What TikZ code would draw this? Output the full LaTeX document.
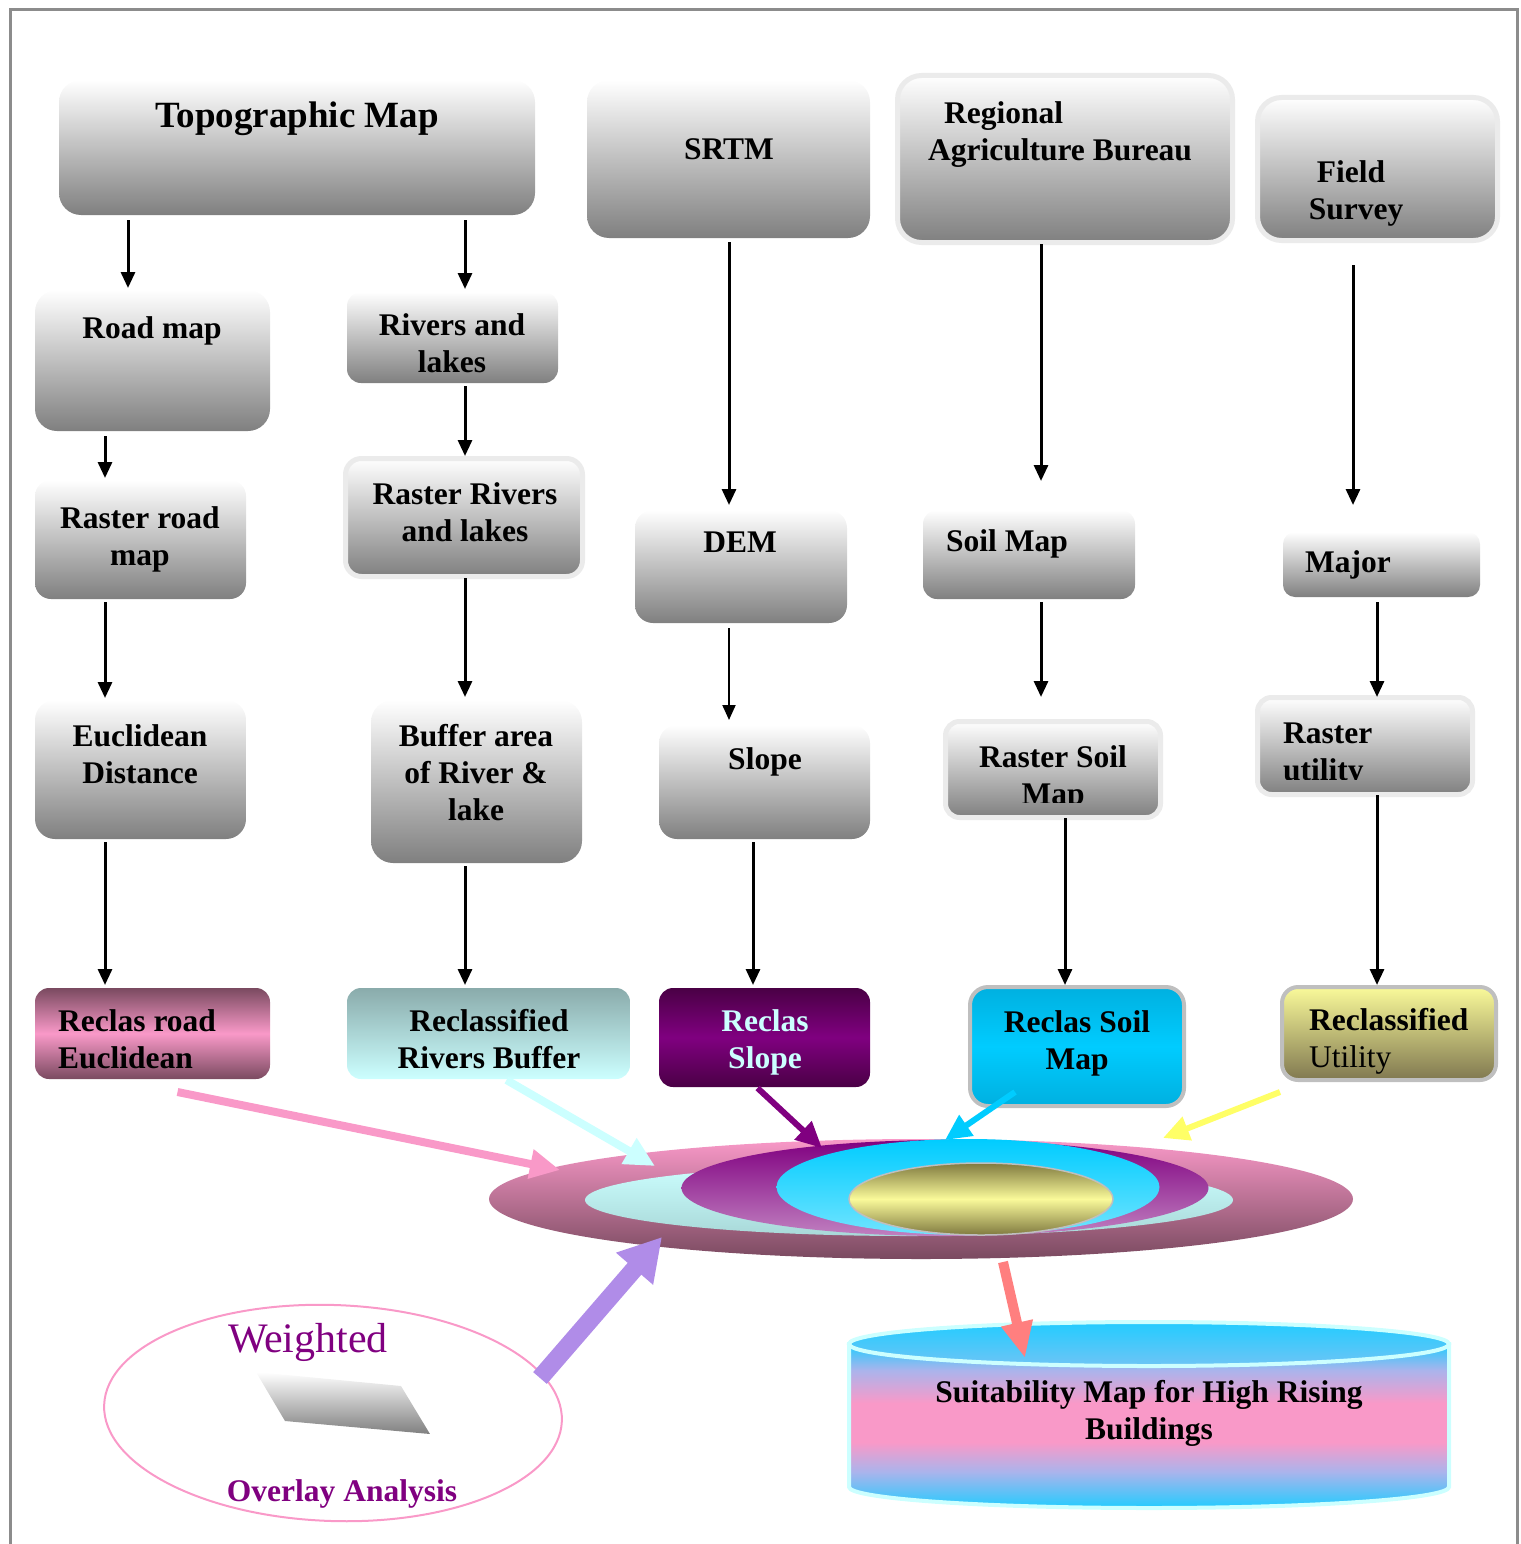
\documentclass[tikz,border=0pt]{standalone}
\usepackage{fontspec}
\setmainfont{Liberation Serif}
\usetikzlibrary{shapes.geometric,arrows.meta}

\definecolor{pinkA}{RGB}{249,153,200}
\definecolor{mauve}{RGB}{122,74,96}
\definecolor{tealgray}{RGB}{138,171,171}
\definecolor{lcyan}{RGB}{204,255,255}
\definecolor{lcyanB}{RGB}{168,216,216}
\definecolor{dpurple}{RGB}{74,0,69}
\definecolor{plum}{RGB}{128,0,128}
\definecolor{orchidA}{RGB}{192,128,192}
\definecolor{cyanA}{RGB}{0,204,255}
\definecolor{cyanB}{RGB}{0,176,224}
\definecolor{cyanC}{RGB}{112,228,255}
\definecolor{cylA}{RGB}{34,204,255}
\definecolor{cylC}{RGB}{110,196,245}
\definecolor{lavA}{RGB}{170,180,236}
\definecolor{yelA}{RGB}{250,250,154}
\definecolor{oliveA}{RGB}{128,120,80}
\definecolor{oliveB}{RGB}{128,122,64}
\definecolor{yelArrow}{RGB}{255,255,102}
\definecolor{salmon}{RGB}{255,127,127}
\definecolor{violetA}{RGB}{176,140,232}

\pgfdeclareverticalshading{cylbody}{100bp}{color(0bp)=(cylA); color(25bp)=(cylA);
  color(36bp)=(lavA); color(45bp)=(pinkA); color(57bp)=(pinkA); color(67bp)=(lavA);
  color(75bp)=(cylA); color(100bp)=(cylA)}

\newcommand{\bx}{\fontsize{31.5}{37}\selectfont\bfseries}
\newcommand{\bigbx}{\fontsize{37}{44}\selectfont\bfseries}

\begin{document}
\begin{tikzpicture}[x=1pt,y=-1pt]
\tikzstyle{gbox}=[rectangle,rounded corners=16pt,inner sep=0,outer sep=0,top color=white,bottom color=black!50]
\tikzstyle{rbox}=[gbox,draw=black!8,line width=5pt]
\tikzstyle{txt}=[inner sep=0,align=center,font=\bx]
\tikzstyle{arr}=[line width=3pt,-{Triangle[length=16pt,width=14pt]}]
\tikzstyle{carr}=[line width=8pt,-{Triangle[length=30pt,width=28pt]}]
\tikzstyle{ell}=[ellipse,inner sep=0,outer sep=0]

\useasboundingbox (0,0) rectangle (1520,1544);
\draw[black!45,line width=3pt] (10,1544) -- (10,10) -- (1517,10) -- (1517,1544);

% data sources
\node[gbox,rounded corners=22pt,minimum width=476,minimum height=135] (topo) at (297,147.5) {};
\node[txt,font=\bigbx] (topo-t) at (297,119) {Topographic Map};
\node[gbox,rounded corners=22pt,minimum width=283,minimum height=158] (srtm) at (728.5,159) {};
\node[txt] (srtm-t) at (729,149) {SRTM};
\node[rbox,rounded corners=24pt,minimum width=335,minimum height=167] (rab) at (1065,159) {};
\node[txt,align=left] (rab-t) at (1060,135) {\hspace*{16pt}Regional\\Agriculture Bureau};
\node[rbox,rounded corners=24pt,minimum width=240,minimum height=143] (field) at (1377.5,169) {};
\node[txt,align=left] (field-t) at (1356,193) {\hspace*{8pt}Field\\Survey};

% intermediate layers
\node[gbox,rounded corners=22pt,minimum width=235,minimum height=141] (road) at (152.5,360.5) {};
\node[txt] (road-t) at (152,331) {Road map};
\node[gbox,rounded corners=14pt,minimum width=211,minimum height=91] (rivers) at (452.5,337.5) {};
\node[txt] (rivers-t) at (452,343) {Rivers and\\lakes};
\node[gbox,minimum width=211,minimum height=119] (rroad) at (140.5,539.5) {};
\node[txt] (rroad-t) at (140,539) {Raster road\\map};
\node[rbox,minimum width=237,minimum height=118] (rriv) at (464,517.5) {};
\node[txt] (rriv-t) at (465,512) {Raster Rivers\\and lakes};
\node[gbox,rounded corners=18pt,minimum width=212,minimum height=113] (dem) at (741,566.5) {};
\node[txt] (dem-t) at (740,542) {DEM};
\node[gbox,rounded corners=14pt,minimum width=212,minimum height=89] (soil) at (1029,554.5) {};
\node[txt,anchor=west] (soil-t) at (946,544) {Soil Map};
\node[gbox,rounded corners=12pt,minimum width=197,minimum height=65] (major) at (1381.5,564.5) {};
\node[txt,anchor=west] (major-t) at (1305,565) {Major};

\node[gbox,rounded corners=20pt,minimum width=211,minimum height=139] (eucl) at (140.5,769.5) {};
\node[txt] (eucl-t) at (140,754) {Euclidean\\Distance};
\node[gbox,rounded corners=22pt,minimum width=211,minimum height=163] (buff) at (476.5,781.5) {};
\node[txt] (buff-t) at (476,773) {Buffer area\\of River \&\\lake};
\node[gbox,rounded corners=18pt,minimum width=211,minimum height=114] (slope) at (764.5,782) {};
\node[txt] (slope-t) at (765,762) {Slope};
\node[rbox,rounded corners=14pt,minimum width=215,minimum height=96] (rsoil) at (1053,769.5) {};
\begin{scope}
  \clip (rsoil.north west) rectangle (1170,802);
  \node[txt] (rsoil-t) at (1053,778) {Raster Soil\\Map};
\end{scope}
\node[rbox,rounded corners=14pt,minimum width=215,minimum height=97] (rutil) at (1365,746) {};
\begin{scope}
  \clip (rutil.north west) rectangle (1480,779);
  \node[txt,align=left,anchor=west] (rutil-t) at (1283,755) {Raster\\utility};
\end{scope}

% reclassified layers
\node[gbox,rounded corners=14pt,minimum width=235,minimum height=91,top color=mauve,bottom color=mauve,middle color=pinkA] (crd) at (152.5,1033.5) {};
\node[txt,align=left,anchor=west] (crd-t) at (58,1039) {Reclas road\\Euclidean};
\node[gbox,rounded corners=14pt,minimum width=283,minimum height=91,top color=tealgray,bottom color=lcyan] (crv) at (488.5,1033.5) {};
\node[txt] (crv-t) at (489,1039) {Reclassified\\Rivers Buffer};
\node[gbox,rounded corners=14pt,minimum width=211,minimum height=99,top color=dpurple,bottom color=dpurple,middle color=plum] (csl) at (764.5,1037.5) {};
\node[txt,text=lcyan] (csl-t) at (765,1042) {Reclas\\Slope};
\node[gbox,rounded corners=18pt,minimum width=214,minimum height=119,draw=black!25,line width=4pt,top color=cyanB,bottom color=cyanB,middle color=cyanA] (cso) at (1077,1046.5) {};
\node[txt] (cso-t) at (1077,1043) {Reclas Soil\\Map};
\node[gbox,rounded corners=16pt,minimum width=214,minimum height=93,draw=black!25,line width=4pt,top color=yelA,bottom color=oliveA] (cut) at (1389,1033.5) {};
\node[txt,align=left,anchor=west] (cut-t) at (1309,1041) {Reclassified\\{\mdseries Utility}};

% black flow arrows
\foreach \src/\dst/\dx/\ss/\se in {topo/road/-169pt/5pt/2pt, topo/rivers/168pt/5pt/3pt,
    road/rroad/-47.5pt/5pt/2pt, rivers/rriv/12.5pt/3pt/2.5pt, rroad/eucl/-35.5pt/3pt/2pt,
    rriv/buff/1pt/1.5pt/3pt, srtm/dem/0.5pt/4pt/5pt, rab/soil/-24pt/1.5pt/29pt,
    soil/rsoil/12pt/3pt/24.5pt, field/major/-24.5pt/24.5pt/27pt, major/rutil/-4.5pt/5pt/0.5pt,
    eucl/crd/-35.5pt/3pt/3pt, buff/crv/-11.5pt/3pt/3pt, slope/csl/-11.5pt/3pt/3pt,
    rsoil/cso/12pt/0.5pt/2pt, rutil/cut/12pt/0.5pt/2pt}{
  \coordinate (p) at ([xshift=\dx]\src.south);
  \draw[arr,shorten <=\ss,shorten >=\se] (p) -- (p |- \dst.north);
}
\coordinate (q) at ([xshift=-12pt]dem.south);
\draw[line width=2pt,-{Triangle[length=15pt,width=13pt]},shorten <=5pt,shorten >=5pt] (q) -- (q |- slope.north);

% overlay stack
\node[ell,minimum width=864,minimum height=120,top color=pinkA,bottom color=mauve] (outer) at (921,1199) {};
\node[ell,minimum width=648,minimum height=72,top color=lcyan,bottom color=lcyanB] (lc) at (909,1200) {};
\node[ell,minimum width=527,minimum height=96,top color=plum,bottom color=orchidA] (pe) at (945,1188) {};
\node[ell,minimum width=383,minimum height=96,top color=cyanA,bottom color=cyanC] (ce) at (968,1187) {};
\node[ell,minimum width=264,minimum height=72,draw=black!25,line width=1.5pt,top color=oliveB,bottom color=oliveB,middle color=yelA] (ye) at (981,1199) {};

% weighted overlay
\node[ell,draw=pinkA,line width=2pt,minimum width=458,minimum height=216,rotate=-2] (wt) at (333,1413) {};
\node[inner sep=0,text=plum,font=\fontsize{42}{48}\selectfont] (wt-t) at (308,1342) {Weighted};
\shade[top color=white,bottom color=black!50] (256,1372) -- (401,1386) -- (430,1434) -- (285,1421) -- cycle;
\node[txt,text=plum] (wt-b) at (342,1494) {Overlay Analysis};

% result
\shadedraw[shading=cylbody,draw=lcyan,line width=4pt] (849,1344) -- (849,1487) arc[start angle=180,end angle=0,x radius=300,y radius=21] -- (1449,1344) -- cycle;
\path[draw=lcyan,line width=4pt,top color=cylA,bottom color=cylC] (1149,1344) ellipse[x radius=300,y radius=22];
\node[txt] (suit) at (1149,1413) {Suitability Map for High Rising\\Buildings};

% coloured arrows
\draw[carr,pinkA] ([shift={(25,13)}]crd.south) -- ([shift={(-361,-29)}]outer.center);
\draw[carr,lcyan] ([shift={(18,1)}]crv.south) -- ([shift={(-266,-33)}]outer.center);
\draw[carr,plum,line width=6pt,-{Triangle[length=26pt,width=24pt]}] ([shift={(-7,1)}]csl.south) -- ([shift={(-99,-51)}]outer.center);
\draw[carr,cyanA,line width=6pt,-{Triangle[length=26pt,width=24pt]}] ([shift={(-62,-14)}]cso.south) -- ([shift={(24,-59)}]outer.center);
\draw[carr,yelArrow,line width=6pt,-{Triangle[length=26pt,width=24pt]}] ([shift={(-109,12)}]cut.south) -- ([shift={(242,-61)}]outer.center);
\draw[violetA,line width=18pt,-{Triangle[length=42pt,width=46pt]}] ([shift={(207,-35)}]wt.center) -- ([shift={(-259,38)}]outer.center);
\draw[salmon,line width=10pt,-{Triangle[length=36pt,width=30pt]}] ([shift={(82,63)}]outer.center) -- ([shift={(-124,-55)}]suit.center);
\end{tikzpicture}
\end{document}
